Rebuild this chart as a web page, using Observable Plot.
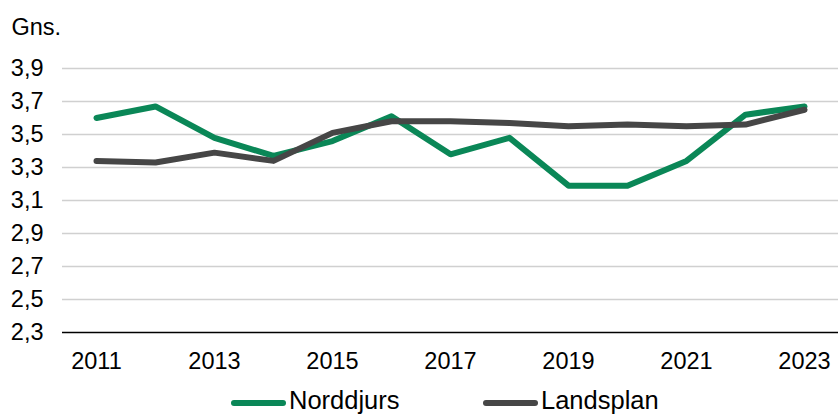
<!DOCTYPE html>
<html>
<head>
<meta charset="utf-8">
<script src="https://cdn.jsdelivr.net/npm/d3@7"></script>
<script src="https://cdn.jsdelivr.net/npm/@observablehq/plot@0.6"></script>
<style>
  html, body { margin: 0; padding: 0; background: #fff; overflow: hidden; }
  #wrap { position: relative; width: 838px; height: 416px; font-family: "Liberation Sans", Arial, sans-serif; }
  .lg-line { position: absolute; height: 6px; border-radius: 3px; width: 55px; }
  .lg-text { position: absolute; font-size: 25.5px; line-height: 25.5px; color: #000; white-space: nowrap; }
</style>
</head>
<body>
<div id="wrap"></div>
<script>
const years = [2011, 2012, 2013, 2014, 2015, 2016, 2017, 2018, 2019, 2020, 2021, 2022, 2023];
const norddjurs = [3.60, 3.67, 3.48, 3.37, 3.46, 3.61, 3.38, 3.48, 3.19, 3.19, 3.34, 3.62, 3.67];
const landsplan = [3.34, 3.33, 3.39, 3.34, 3.51, 3.58, 3.58, 3.57, 3.55, 3.56, 3.55, 3.56, 3.65];
const seriesNames = ["Norddjurs", "Landsplan"];
const seriesColors = ["#0a8757", "#464646"];
const yTicks = [2.3, 2.5, 2.7, 2.9, 3.1, 3.3, 3.5, 3.7, 3.9];
const xTicks = [2011, 2013, 2015, 2017, 2019, 2021, 2023];
const yLabel = "Gns.";

const rows = [];
[norddjurs, landsplan].forEach((vals, si) => {
  vals.forEach((v, i) => rows.push({series: seriesNames[si], year: years[i], value: v}));
});

const fmt = d => d3.format(".1f")(d).replace(".", ",");

const chart = Plot.plot({
  width: 838,
  height: 416,
  marginLeft: 62,
  marginRight: 0,
  marginTop: 68,
  marginBottom: 84,
  style: {fontFamily: '"Liberation Sans", Arial, sans-serif', fontSize: "23.5px", color: "#000", background: "#fff", overflow: "visible"},
  x: {type: "point", domain: years, padding: 0.5, ticks: xTicks, tickFormat: d => String(d), tickSize: 0, tickPadding: 20, label: null},
  y: {domain: [2.3, 3.9], ticks: yTicks, tickFormat: fmt, tickSize: 0, tickPadding: 19, label: null},
  color: {domain: seriesNames, range: seriesColors},
  marks: [
    Plot.ruleY(yTicks.filter(d => d > 2.3), {stroke: "#d0d0d0", strokeWidth: 1.3}),
    Plot.ruleY([2.3], {stroke: "#000", strokeWidth: 1.5}),
    Plot.line(rows, {x: "year", y: "value", z: "series", stroke: "series", strokeWidth: 6, strokeLinecap: "round", strokeLinejoin: "round"}),
    Plot.text([yLabel], {frameAnchor: "top-left", dx: -51, dy: -50, text: d => d, textAnchor: "start", fontSize: 23.5, fill: "#000"})
  ]
});

const wrap = document.getElementById("wrap");
wrap.appendChild(chart);

const legendPos = [{line: 231, text: 289}, {line: 483, text: 541}];
seriesNames.forEach((name, i) => {
  const l = document.createElement("div");
  l.className = "lg-line";
  l.style.left = legendPos[i].line + "px";
  l.style.top = "400px";
  l.style.background = seriesColors[i];
  wrap.appendChild(l);
  const t = document.createElement("div");
  t.className = "lg-text";
  t.style.left = legendPos[i].text + "px";
  t.style.top = "388px";
  t.textContent = name;
  wrap.appendChild(t);
});
chart.style.position = "absolute";
chart.style.left = "0";
chart.style.top = "0";
</script>
</body>
</html>
